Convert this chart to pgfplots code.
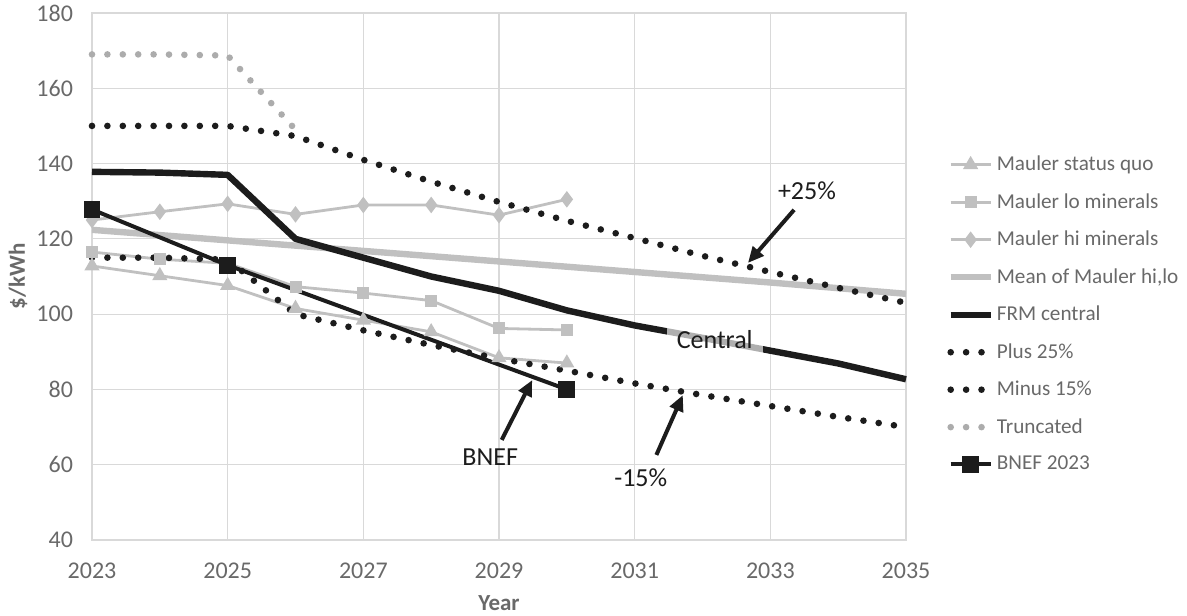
\documentclass[border=0pt]{standalone}
\usepackage{fontspec}
\setmainfont{Carlito}
\usepackage{pgfplots}
\pgfplotsset{compat=1.18}
\usetikzlibrary{arrows.meta}

\definecolor{ticktxt}{RGB}{105,105,105}
\definecolor{lgray}{RGB}{192,192,192}
\definecolor{dgray}{RGB}{172,172,172}
\definecolor{gridc}{RGB}{217,217,217}
\definecolor{ink}{RGB}{28,28,28}

\begin{document}
\begin{tikzpicture}[
  dots/.style={line width=3.3pt, line cap=round, dash pattern=on 0pt off 7.7pt},
  note/.style={font=\fontsize{13}{15}\selectfont, text=ink},
  callout/.style={draw=ink, line width=2pt, -{Triangle[length=8pt,width=7pt]}}
]
\path[use as bounding box] (-46pt,-37.5pt) rectangle (547.5pt,270pt);
\begin{axis}[
    at={(0,0)}, anchor=south west,
    scale only axis,
    width=407pt, height=263.5pt,
    xmin=2023, xmax=2035, ymin=40, ymax=180,
    xtick={2023,2025,...,2035},
    ytick={40,60,...,180},
    grid=major,
    grid style={draw=gridc, line width=0.6pt},
    axis line style={draw=gridc, line width=0.8pt},
    major tick length=0pt,
    clip=false,
    /pgf/number format/assume math mode=true,
    /pgf/number format/1000 sep={},
    ticklabel style={font=\fontsize{12}{14}\selectfont, text=ticktxt},
    xticklabel style={yshift=-8pt},
    yticklabel style={xshift=-6pt},
    xlabel={Year},
    xlabel style={font=\bfseries\fontsize{11.5}{13}\selectfont, text=ticktxt,
                  at={(axis description cs:0.5,0)}, anchor=center, yshift=-31.5pt},
    ylabel={\$/kWh},
    ylabel style={font=\bfseries\fontsize{11.5}{13}\selectfont, text=ticktxt,
                  at={(axis description cs:-0.091,0.5)}, anchor=center},
    legend image code/.code={\draw[mark repeat=2,mark phase=2,#1]
        plot coordinates {(0cm,0cm) (0.35cm,0cm) (0.7cm,0cm)};},
    legend cell align=left,
    legend style={at={(rel axis cs:1.043,0.745)}, anchor=north west,
                  draw=none, fill=none, row sep=5.9pt,
                  font=\fontsize{10.6}{12}\selectfont, text=ticktxt,
                  nodes={inner xsep=1.5pt},
                  /tikz/every even column/.append style={column sep=1pt}},
]
% Mauler status quo
\addplot[lgray, line width=1.4pt, mark=triangle*, mark size=3pt,
         mark options={fill=lgray, draw=lgray}] coordinates {
  (2023,112.8) (2024,110.2) (2025,107.6) (2026,101.5) (2027,98.4) (2028,95.3) (2029,88.4) (2030,87)
};
\addlegendentry{Mauler status quo}
% Mauler lo minerals
\addplot[lgray, line width=1.4pt, mark=square*, mark size=2.3pt,
         mark options={fill=lgray, draw=lgray}] coordinates {
  (2023,116.5) (2024,114.6) (2025,113.5) (2026,107.3) (2027,105.6) (2028,103.6) (2029,96.2) (2030,95.8)
};
\addlegendentry{Mauler lo minerals}
% Mauler hi minerals
\addplot[lgray, line width=1.4pt, mark=diamond*, mark size=3pt,
         mark options={fill=lgray, draw=lgray}] coordinates {
  (2023,125) (2024,127.2) (2025,129.3) (2026,126.5) (2027,129) (2028,129) (2029,126.3) (2030,130.5)
};
\addlegendentry{Mauler hi minerals}
% Mean of Mauler hi,lo
\addplot[lgray, line width=3.2pt, no marks] coordinates {
  (2023,122.4) (2024,121) (2025,119.6) (2026,118.2) (2027,116.8) (2028,115.4) (2029,114.0)
  (2030,112.6) (2031,111.2) (2032,109.8) (2033,108.4) (2034,106.9) (2035,105.4)
};
\addlegendentry{Mean of Mauler hi,lo}
% FRM central
\addplot[ink, line width=3.2pt, no marks, line join=round] coordinates {
  (2023,137.8) (2024,137.6) (2025,137) (2026,120) (2027,115) (2028,110) (2029,106.2)
  (2030,101) (2031,97) (2032,93.7) (2033,90.3) (2034,86.9) (2035,82.7)
};
\addlegendentry{FRM central}
% Plus 25%
\addplot[ink, dots, no marks] coordinates {
  (2023,150) (2024,150) (2025,150) (2026,147.3) (2027,141) (2028,135.2) (2029,129.8)
  (2030,124.8) (2031,120.2) (2032,115.5) (2033,111.2) (2034,107) (2035,103)
};
\addlegendentry{Plus 25\%}
% Minus 15%
\addplot[ink, dots, no marks] coordinates {
  (2023,115) (2024,115) (2025,114.5) (2026,100) (2027,95.7) (2028,91.8) (2029,88.2)
  (2030,85) (2031,81.6) (2032,78.5) (2033,75.6) (2034,72.7) (2035,70)
};
\addlegendentry{Minus 15\%}
% Truncated
\addplot[dgray, dots, no marks] coordinates {
  (2023,169) (2024,169) (2025,168.7) (2026,149)
};
\addlegendentry{Truncated}
% BNEF 2023
\addplot[ink, line width=2pt, mark=square*, mark size=3.2pt,
         mark options={fill=ink, draw=ink}] coordinates {
  (2023,127.8) (2025,113) (2030,80)
};
\addlegendentry{BNEF 2023}

% annotations
\node[note] at (axis cs:2033.54,132.7) {+25\%};
\draw[callout] (axis cs:2033.35,127.7) -- (axis cs:2032.67,113.6);
\node[note, fill=white, fill opacity=0.65, text opacity=1, inner xsep=5pt, inner ysep=3pt]
  at (axis cs:2032.18,93.2) {Central};
\node[note] at (axis cs:2031.09,56.5) {-15\%};
\draw[callout] (axis cs:2031.32,62.6) -- (axis cs:2031.71,78.5);
\node[note] at (axis cs:2028.87,61.9) {BNEF};
\draw[callout] (axis cs:2029.04,66.6) -- (axis cs:2029.49,82.5);
\end{axis}
\end{tikzpicture}
\end{document}
